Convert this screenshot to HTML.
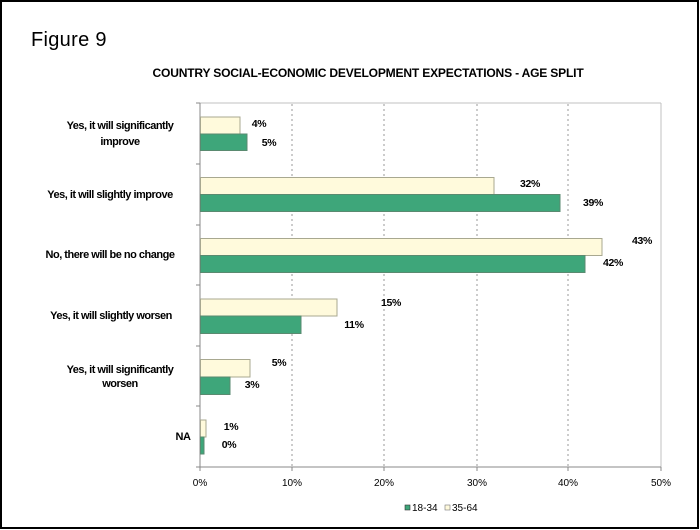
<!DOCTYPE html>
<html><head><meta charset="utf-8"><style>
html,body{margin:0;padding:0;background:#fff}
svg{display:block}
text{font-family:"Liberation Sans",Arial,sans-serif}
.c{font-size:11px;font-weight:bold;letter-spacing:-0.5px;fill:#000}
.v{font-size:10.5px;font-weight:bold;letter-spacing:-0.3px;fill:#000}
.t{font-size:10px;fill:#000}
</style></head><body>
<svg width="700" height="530" viewBox="0 0 700 530">
<rect x="1" y="1" width="697" height="527" fill="#fff" stroke="#000" stroke-width="2"/>
<text x="31" y="46" style="font-size:20px;letter-spacing:0.3px">Figure 9</text>
<text x="368" y="77" text-anchor="middle" style="font-size:12px;font-weight:bold;letter-spacing:-0.2px" textLength="431" lengthAdjust="spacingAndGlyphs">COUNTRY SOCIAL-ECONOMIC DEVELOPMENT EXPECTATIONS - AGE SPLIT</text>
<line x1="200" y1="103" x2="661" y2="103" stroke="#c0c0c0"/>
<line x1="661" y1="103" x2="661" y2="467" stroke="#c0c0c0"/>
<g stroke="#999" stroke-dasharray="2,3">
<line x1="292" y1="104" x2="292" y2="467"/><line x1="384" y1="104" x2="384" y2="467"/>
<line x1="477" y1="104" x2="477" y2="467"/><line x1="568" y1="104" x2="568" y2="467"/>
</g>
<g stroke="#888">
<line x1="200" y1="103" x2="200" y2="467"/><line x1="200" y1="467" x2="661" y2="467"/>
<line x1="196" y1="103" x2="200" y2="103"/><line x1="196" y1="164" x2="200" y2="164"/><line x1="196" y1="225" x2="200" y2="225"/><line x1="196" y1="285" x2="200" y2="285"/><line x1="196" y1="346" x2="200" y2="346"/><line x1="196" y1="406" x2="200" y2="406"/><line x1="196" y1="467" x2="200" y2="467"/>
<line x1="200" y1="467" x2="200" y2="471"/><line x1="292" y1="467" x2="292" y2="471"/><line x1="384" y1="467" x2="384" y2="471"/><line x1="477" y1="467" x2="477" y2="471"/><line x1="568" y1="467" x2="568" y2="471"/><line x1="661" y1="467" x2="661" y2="471"/>
</g>
<g stroke="#a8a890" fill="#fffadc">
<rect x="200.5" y="117" width="39.5" height="17"/>
<rect x="200.5" y="177.5" width="293.5" height="17"/>
<rect x="200.5" y="238.5" width="401.5" height="17"/>
<rect x="200.5" y="299" width="136.5" height="17"/>
<rect x="200.5" y="359.5" width="49.5" height="17.5"/>
<rect x="200.5" y="420" width="5.5" height="17"/>
</g>
<g stroke="#5a8a70" fill="#3ea67a">
<rect x="200.5" y="134" width="46.5" height="16.5"/>
<rect x="200.5" y="194.5" width="359.5" height="17"/>
<rect x="200.5" y="255.5" width="384.5" height="17"/>
<rect x="200.5" y="316" width="100.5" height="17.5"/>
<rect x="200.5" y="377" width="29.5" height="17.5"/>
<rect x="200.5" y="437" width="3.5" height="17"/>
</g>
<g class="v" text-anchor="middle">
<text x="259" y="127">4%</text><text x="269" y="146">5%</text>
<text x="530" y="187">32%</text><text x="593" y="206">39%</text>
<text x="642" y="244">43%</text><text x="613" y="266">42%</text>
<text x="391" y="306">15%</text><text x="354" y="328">11%</text>
<text x="279" y="366">5%</text><text x="252" y="388">3%</text>
<text x="231" y="430">1%</text><text x="229" y="448">0%</text>
</g>
<g class="c" text-anchor="middle">
<text x="120" y="129">Yes, it will significantly</text>
<text x="120" y="145">improve</text>
<text x="110" y="198">Yes, it will slightly improve</text>
<text x="110" y="258">No, there will be no change</text>
<text x="111" y="319">Yes, it will slightly worsen</text>
<text x="120" y="373">Yes, it will significantly</text>
<text x="120" y="387">worsen</text>
<text x="183" y="440">NA</text>
</g>
<g class="t" text-anchor="middle">
<text x="200" y="486">0%</text><text x="292" y="486">10%</text><text x="384" y="486">20%</text>
<text x="477" y="486">30%</text><text x="568" y="486">40%</text><text x="661" y="486">50%</text>
</g>
<rect x="405" y="505" width="5" height="5" fill="#3ea67a" stroke="#333" stroke-width="0.6"/>
<text x="412" y="511" class="t">18-34</text>
<rect x="445" y="505" width="5" height="5" fill="#fffadc" stroke="#777" stroke-width="0.6"/>
<text x="452" y="511" class="t">35-64</text>
</svg>
</body></html>
